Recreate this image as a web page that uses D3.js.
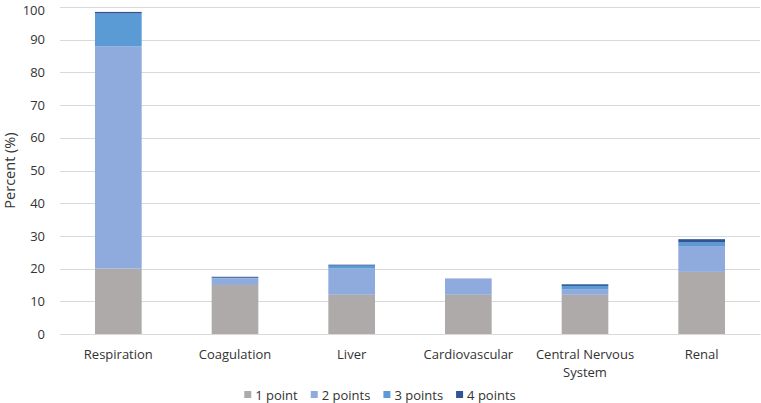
<!DOCTYPE html>
<html>
<head>
<meta charset="utf-8">
<script src="https://cdn.jsdelivr.net/npm/d3@7"></script>
<style>
  html, body { margin: 0; padding: 0; background: #fff; }
  svg { display: block; font-family: "Open Sans", "Liberation Sans", sans-serif; }
</style>
</head>
<body>
<svg id="chart" width="761" height="403"></svg>
<script>
const categories = ["Respiration", "Coagulation", "Liver", "Cardiovascular", "Central Nervous System", "Renal"];
const seriesNames = ["1 point", "2 points", "3 points", "4 points"];
const onePoint   = [20, 15, 12, 12, 12, 19];
const twoPoints  = [68, 2.0, 8, 5, 1.7, 7.9];
const threePoints = [10, 0.2, 0.9, 0, 1.0, 1.1];
const fourPoints = [0.5, 0.3, 0.3, 0, 0.5, 1.0];
const yTicks = [0, 10, 20, 30, 40, 50, 60, 70, 80, 90, 100];
const colors = ["#aeaaaa", "#8faadc", "#5b9bd5", "#2f5597"];

const svg = d3.select("#chart");
const W = 761, H = 403;
const m = { left: 60, right: 1, top: 7, bottom: 69 };

const rows = categories.map((c, i) => ({
  cat: c, "1 point": onePoint[i], "2 points": twoPoints[i], "3 points": threePoints[i], "4 points": fourPoints[i]
}));
const stacked = d3.stack().keys(seriesNames)(rows);

const x = d3.scaleBand().domain(categories).range([m.left, W - m.right]).paddingInner(0.6).paddingOuter(0.3);
const y = d3.scaleLinear().domain([0, 100]).range([H - m.bottom, m.top]);

// gridlines
svg.append("g").selectAll("line").data(yTicks).join("line")
  .attr("x1", m.left).attr("x2", W - m.right)
  .attr("y1", d => Math.round(y(d)) + 0.5).attr("y2", d => Math.round(y(d)) + 0.5)
  .attr("stroke", "#d9d9d9").attr("stroke-width", 1);

// y axis labels
const yAxis = d3.axisLeft(y).tickValues(yTicks).tickSize(0).tickPadding(0);
const yg = svg.append("g").attr("transform", `translate(${m.left - 15},0)`).call(yAxis);
yg.select(".domain").remove();
yg.selectAll("text").attr("font-size", 13).attr("fill", "#333")
  .attr("font-family", "\"Open Sans\", sans-serif")
  .attr("y", d => d === 100 ? 3 : 0);

// bars
svg.append("g").selectAll("g").data(stacked).join("g")
  .attr("fill", (d, i) => colors[i])
  .selectAll("rect").data(d => d).join("rect")
  .attr("x", d => x(d.data.cat))
  .attr("width", x.bandwidth())
  .attr("y", d => y(d[1]))
  .attr("height", d => Math.max(0, y(d[0]) - y(d[1])));

// x axis labels
const xAxis = d3.axisBottom(x).tickSize(0).tickPadding(0);
const xg = svg.append("g").attr("transform", `translate(0,${H - m.bottom})`).call(xAxis);
xg.select(".domain").attr("stroke", "#d9d9d9");
xg.selectAll("text").remove();
xg.selectAll(".tick").each(function(d) {
  const t = d3.select(this).append("text")
    .attr("fill", "#333").attr("font-size", 13).attr("text-anchor", "middle")
    .attr("font-family", "\"Open Sans\", sans-serif");
  const lines = d === "Central Nervous System" ? ["Central Nervous", "System"] : [d];
  lines.forEach((ln, k) => {
    t.append("tspan").attr("x", 0).attr("y", 25 + k * 18).text(ln);
  });
});

// y axis title
svg.append("text")
  .attr("transform", `translate(15,${(m.top + H - m.bottom) / 2}) rotate(-90)`)
  .attr("text-anchor", "middle").attr("font-size", 14.5).attr("fill", "#333")
  .text("Percent (%)");

// legend
const legend = svg.append("g");
let lx = 0;
seriesNames.forEach((s, i) => {
  const g = legend.append("g");
  g.append("rect").attr("x", 0).attr("y", -4).attr("width", 7).attr("height", 7).attr("fill", colors[i]);
  const t = g.append("text").attr("x", 11).attr("y", 0).attr("dy", "0.35em")
    .attr("font-size", 13).attr("fill", "#333").text(s);
  const w = 11 + t.node().getComputedTextLength();
  g.attr("transform", `translate(${lx},0)`);
  lx += w + 13;
});
const totalW = lx - 13;
legend.attr("transform", `translate(${380 - totalW / 2},395)`);
</script>
</body>
</html>
